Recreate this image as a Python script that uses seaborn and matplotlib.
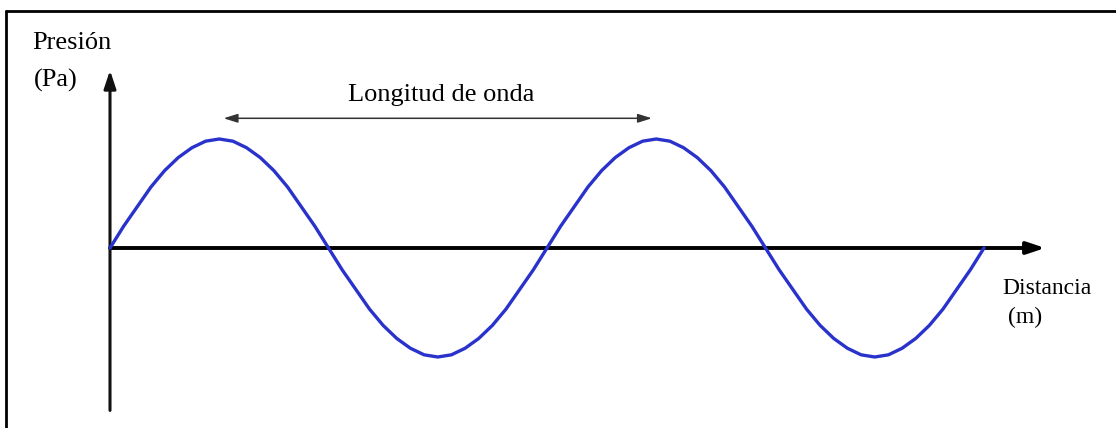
import numpy as np
import pandas as pd
import matplotlib
matplotlib.use("Agg")
import matplotlib.pyplot as plt
from matplotlib.lines import Line2D
import seaborn as sns

# ======================================
# DATA
# ======================================

# distance in wavelengths, sampled every 1/32 of a wavelength
distancia = [i / 32 for i in range(65)]

# pressure (relative amplitude) read at each sample
presion = [
    0.0, 0.20, 0.38, 0.56, 0.71, 0.83, 0.92, 0.98,
    1.0, 0.98, 0.92, 0.83, 0.71, 0.56, 0.38, 0.20,
    0.0, -0.20, -0.38, -0.56, -0.71, -0.83, -0.92, -0.98,
    -1.0, -0.98, -0.92, -0.83, -0.71, -0.56, -0.38, -0.20,
    0.0, 0.20, 0.38, 0.56, 0.71, 0.83, 0.92, 0.98,
    1.0, 0.98, 0.92, 0.83, 0.71, 0.56, 0.38, 0.20,
    0.0, -0.20, -0.38, -0.56, -0.71, -0.83, -0.92, -0.98,
    -1.0, -0.98, -0.92, -0.83, -0.71, -0.56, -0.38, -0.20,
    0.0,
]

# wavelength marker: from first crest to second crest
onda_inicio = 0.26
onda_fin = 1.24
onda_altura = 1.19

# axis extents
eje_x_fin = 2.14
eje_y_min = -1.49
eje_y_max = 1.63

df = pd.DataFrame({"Distancia": distancia, "Presion": presion})

# ======================================
# FIGURE
# ======================================

sns.set_theme(style="white")
plt.rcParams["font.family"] = ["Liberation Serif", "DejaVu Serif"]

fig = plt.figure(figsize=(11.16, 4.28), dpi=100)
ax = fig.add_axes([0, 0, 1, 1])

# pixel-matched scale: origin at (110, 248), 437 px per wavelength, 109 px per unit
ax.set_xlim(-110 / 437, 1006 / 437)
ax.set_ylim(-180 / 109, 248 / 109)
ax.axis("off")

# axes with arrows
ax.annotate("", xy=(eje_x_fin, 0), xytext=(0, 0),
            arrowprops=dict(arrowstyle="-|>,head_length=0.9,head_width=0.3",
                            color="black", lw=2.8, shrinkA=0, shrinkB=0))
ax.annotate("", xy=(0, eje_y_max), xytext=(0, eje_y_min),
            arrowprops=dict(arrowstyle="-|>,head_length=0.9,head_width=0.3",
                            color="#111111", lw=2.2, shrinkA=0, shrinkB=0))

# the wave
sns.lineplot(data=df, x="Distancia", y="Presion", ax=ax, color="#2a32cc",
             lw=2.4, sort=False, zorder=3)
ax.set_xlabel("")
ax.set_ylabel("")

# wavelength double arrow
ax.annotate("", xy=(onda_fin, onda_altura), xytext=(onda_inicio, onda_altura),
            arrowprops=dict(arrowstyle="<|-|>,head_length=0.7,head_width=0.22",
                            color="#333333", lw=1.1, shrinkA=0, shrinkB=0))

# labels
W, H = 1116, 428
def txt(px, py, s, size, ha="left"):
    fig.text(px / W, 1 - py / H, s, fontsize=size, ha=ha, va="center",
             color="black")

txt(32, 43, "Presión", 19)
txt(34, 80, "(Pa)", 19)
txt(441, 95, "Longitud de onda", 19, ha="center")
txt(1002, 288, "Distancia", 17)
txt(1008, 317, "(m)", 17)

# frame (top and left edges)
fig.add_artist(Line2D([5.5 / W, 1.0], [1 - 11 / H, 1 - 11 / H],
                      transform=fig.transFigure, color="black", lw=2.0))
fig.add_artist(Line2D([5.5 / W, 5.5 / W], [1 - 11 / H, 0.0],
                      transform=fig.transFigure, color="black", lw=2.0))

fig.savefig("out.png", dpi=100, facecolor="white")
